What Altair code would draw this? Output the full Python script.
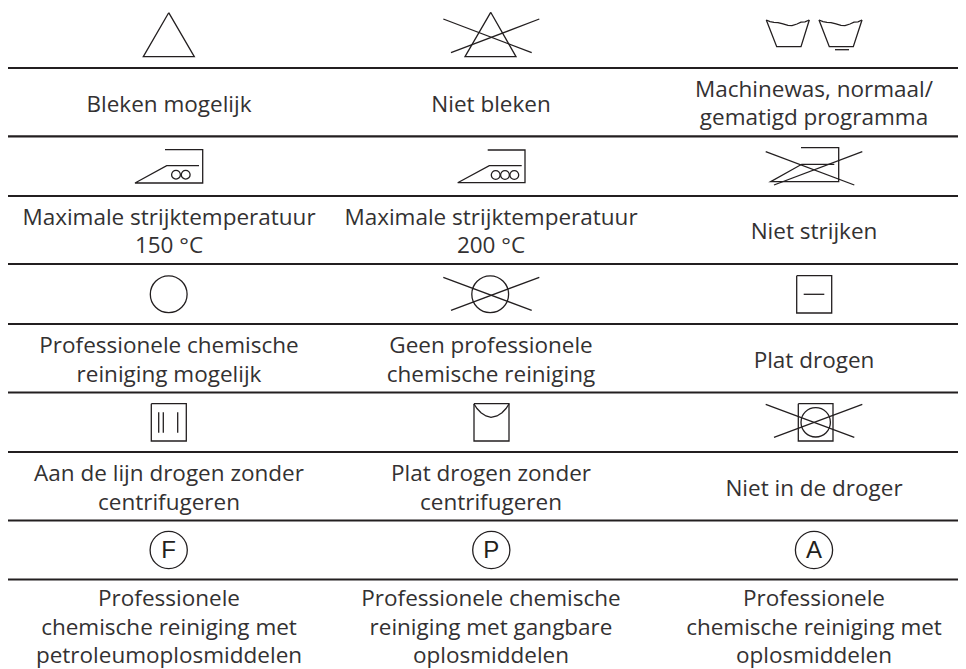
import altair as alt
import pandas as pd

INK = "#231f20"
TEXT_INK = "#333132"
FONT = "Open Sans"
FONT_SIZE = 22.5

# horizontal table rules (page y)
rule_y = [68, 136.3, 196, 264, 324, 392.5, 452, 520.5, 579.5]
rule_x = [8, 958]

labels = [
    (169, 111.7, "Bleken mogelijk"),
    (491, 111.7, "Niet bleken"),
    (814, 96.7, "Machinewas, normaal/"),
    (814, 125, "gematigd programma"),
    (169, 224.7, "Maximale strijktemperatuur"),
    (169, 253, "150 °C"),
    (491, 224.7, "Maximale strijktemperatuur"),
    (491, 253, "200 °C"),
    (814, 239, "Niet strijken"),
    (169, 352.7, "Professionele chemische"),
    (169, 381.5, "reiniging mogelijk"),
    (491, 352.7, "Geen professionele"),
    (491, 381.5, "chemische reiniging"),
    (814, 368.3, "Plat drogen"),
    (169, 481, "Aan de lijn drogen zonder"),
    (169, 509.7, "centrifugeren"),
    (491, 481, "Plat drogen zonder"),
    (491, 509.7, "centrifugeren"),
    (814, 495.7, "Niet in de droger"),
    (169, 606.4, "Professionele"),
    (169, 634.8, "chemische reiniging met"),
    (169, 663.2, "petroleumoplosmiddelen"),
    (491, 606.4, "Professionele chemische"),
    (491, 634.8, "reiniging met gangbare"),
    (491, 663.2, "oplosmiddelen"),
    (814, 606.4, "Professionele"),
    (814, 634.8, "chemische reiniging met"),
    (814, 663.2, "oplosmiddelen"),
]

# icon outlines, each a list of (x, y)
polylines = [
    # triangles
    [(168.7, 12.7), (143.3, 56.7), (194.3, 56.7), (168.7, 12.7)],
    [(490.7, 12.3), (465, 56.7), (516, 56.7), (490.7, 12.3)],
    [(443.3, 19), (531.7, 52.7)],
    [(451, 52.7), (539.3, 19)],
    # wash tubs
    [(766.3, 20), (776.7, 46.7), (801, 46.7), (809.3, 20)],
    [(766.3, 20), (770, 21.6), (774, 22.4), (778, 22.6), (783, 23.8), (788, 25.4), (792, 25.6),
     (797, 24), (801, 22.2), (805, 21.8), (809.3, 20)],
    [(819, 20), (829.3, 46.7), (853.3, 46.7), (862, 20)],
    [(819, 20), (823, 21.6), (827, 22.4), (831, 22.6), (836, 23.8), (841, 25.4), (845, 25.6),
     (850, 24), (854, 22.2), (858, 21.8), (862, 20)],
    [(835, 49.7), (849, 49.7)],
    # irons
    [(165, 149.7), (202.7, 149.7), (202.7, 183), (135, 183), (166.7, 165.7), (199, 165.7)],
    [(487.7, 150), (525, 150), (525, 182.7), (457.7, 182.7), (489.3, 165.7), (521.7, 165.7)],
    [(801, 147.7), (838.7, 147.7), (838.7, 181.7), (770.7, 181.7), (801.7, 164.3), (834.3, 164.3)],
    [(765.7, 151.7), (854.3, 185)],
    [(774, 185), (862.3, 151.7)],
    # crossed circle
    [(443.3, 277.3), (531.7, 310.3)],
    [(451, 310.3), (539.3, 277.3)],
    # flat dry
    [(796.7, 275.7), (831.7, 275.7), (831.7, 313), (796.7, 313), (796.7, 275.7)],
    [(803.7, 294.3), (824.3, 294.3)],
    # line dry
    [(151.3, 403.7), (186.3, 403.7), (186.3, 441), (151.3, 441), (151.3, 403.7)],
    [(158.7, 412.3), (158.7, 432.7)],
    [(163.3, 412.3), (163.3, 432.7)],
    [(177.7, 412.3), (177.7, 432.7)],
    # drip flat
    [(474, 403.7), (509, 403.7), (509, 441), (474, 441), (474, 403.7)],
    [(474, 404), (477, 408.5), (481, 412.7), (486, 416), (491, 417.3), (497, 416), (502, 412.7),
     (506, 408.5), (509, 404)],
    # no tumble
    [(798.3, 403.7), (833, 403.7), (833, 441), (798.3, 441), (798.3, 403.7)],
    [(765.7, 404.3), (854.3, 437.3)],
    [(774, 437.3), (862.3, 404.3)],
]

# circles: (x, y, radius)
circles = [
    (176, 174.7, 4.4), (185.7, 174.7, 4.4),
    (495.7, 175, 4.4), (505, 175, 4.4), (514.3, 175, 4.4),
    (168.7, 294.3, 18.4), (490.2, 294.3, 18.4),
    (815.7, 422.3, 14.7),
    (168.7, 550, 18.6), (491.3, 550, 18.6), (814, 550, 18.6),
]

# letters inside the circles
letters = [(168.7, 558.3, "F"), (491.3, 558.3, "P"), (814, 558.3, "A")]

X = alt.Scale(domain=[8, 958], nice=False, zero=False)
Y = alt.Scale(domain=[669, 8], nice=False, zero=False)
x_enc = alt.X("x:Q", scale=X, axis=None)
y_enc = alt.Y("y:Q", scale=Y, axis=None)

poly_df = pd.DataFrame(
    [{"seg": i, "ord": j, "x": p[0], "y": p[1]}
     for i, line in enumerate(polylines) for j, p in enumerate(line)]
)
rule_df = pd.DataFrame(
    [{"seg": i, "ord": j, "x": xv, "y": yv}
     for i, yv in enumerate(rule_y) for j, xv in enumerate(rule_x)]
)
circle_df = pd.DataFrame(circles, columns=["x", "y", "r"])
circle_df["size"] = 4 * circle_df["r"] ** 2
text_df = pd.DataFrame(labels, columns=["x", "y", "t"])
letter_df = pd.DataFrame(letters, columns=["x", "y", "t"])

rules = alt.Chart(rule_df).mark_line(color=INK, strokeWidth=2.2).encode(
    x=x_enc, y=y_enc, detail="seg:N", order="ord:Q")
icons = alt.Chart(poly_df).mark_line(color=INK, strokeWidth=1.3, strokeJoin="miter").encode(
    x=x_enc, y=y_enc, detail="seg:N", order="ord:Q")
rings = alt.Chart(circle_df).mark_point(
    shape="circle", filled=False, color=INK, strokeWidth=1.3, opacity=1
).encode(x=x_enc, y=y_enc,
         size=alt.Size("size:Q", scale=None, legend=None))
texts = alt.Chart(text_df).mark_text(
    font=FONT, fontSize=FONT_SIZE, color=TEXT_INK, align="center", baseline="alphabetic"
).encode(x=x_enc, y=y_enc, text="t:N")
lets = alt.Chart(letter_df).mark_text(
    font="Liberation Sans", fontSize=24, color=INK, align="center", baseline="alphabetic"
).encode(x=x_enc, y=y_enc, text="t:N")

chart = (
    alt.layer(rules, icons, rings, texts, lets)
    .properties(width=950, height=661, padding=0,
                autosize=alt.AutoSizeParams(type="none"))
    .configure_view(stroke=None)
)
chart.save("out.html", embed_options={"renderer": "svg", "actions": False})
